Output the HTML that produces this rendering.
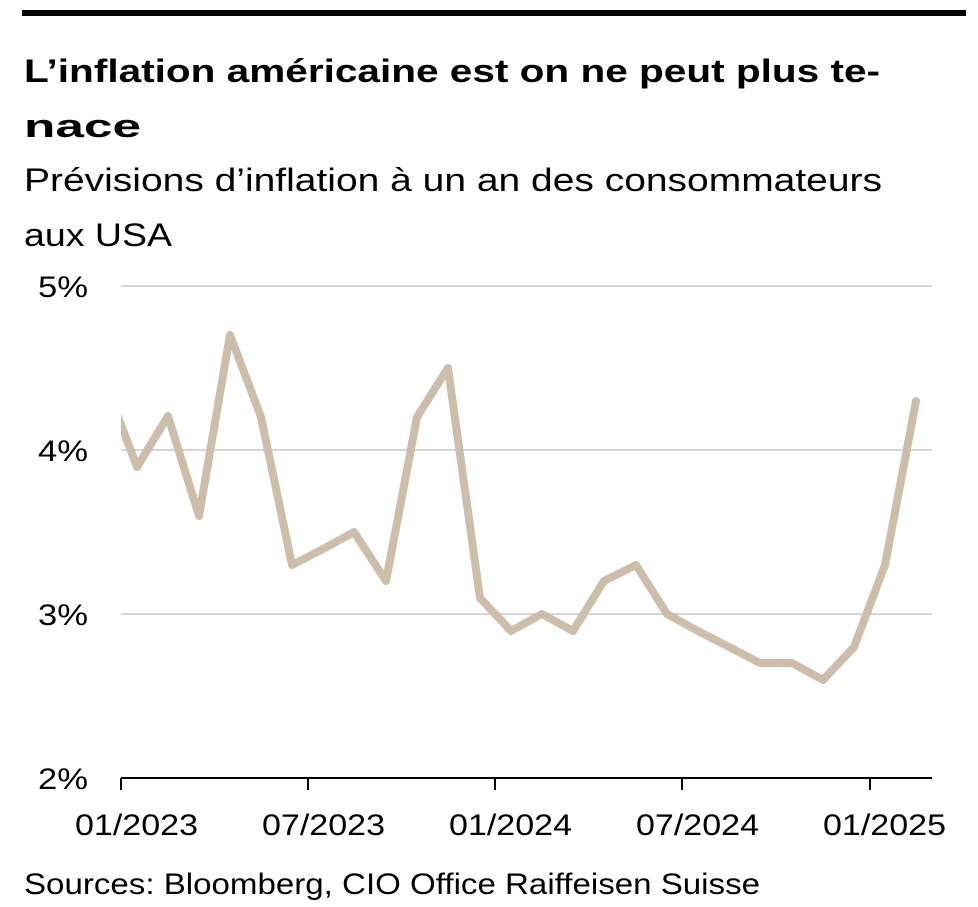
<!DOCTYPE html>
<html><head><meta charset="utf-8"><style>
body{margin:0;background:#fff;width:978px;height:907px;overflow:hidden;font-family:"Liberation Sans",sans-serif;}
</style></head><body>
<svg width="978" height="907" xmlns="http://www.w3.org/2000/svg" style="position:absolute;left:0;top:0">
<rect x="22" y="10" width="944" height="6" fill="#000"/>
<text x="24" y="82" font-size="32" font-weight="bold" fill="#000" textLength="856" lengthAdjust="spacingAndGlyphs">L’inflation américaine est on ne peut plus te-</text>
<text x="24" y="137" font-size="32" font-weight="bold" fill="#000" textLength="117" lengthAdjust="spacingAndGlyphs">nace</text>
<text x="24" y="191" font-size="32" fill="#000" textLength="858" lengthAdjust="spacingAndGlyphs">Prévisions d’inflation à un an des consommateurs</text>
<text x="24" y="246" font-size="32" fill="#000" textLength="148" lengthAdjust="spacingAndGlyphs">aux USA</text>
<g stroke="#c8c8c8" stroke-width="1.5">
<line x1="121" y1="286" x2="932" y2="286"/>
<line x1="121" y1="450" x2="932" y2="450"/>
<line x1="121" y1="614" x2="932" y2="614"/>
</g>
<g font-size="30" fill="#000" text-anchor="end">
<text x="88" y="297" textLength="50" lengthAdjust="spacingAndGlyphs">5%</text>
<text x="88" y="461" textLength="50" lengthAdjust="spacingAndGlyphs">4%</text>
<text x="88" y="625" textLength="50" lengthAdjust="spacingAndGlyphs">3%</text>
<text x="88" y="789" textLength="50" lengthAdjust="spacingAndGlyphs">2%</text>
</g>
<line x1="121" y1="778" x2="932" y2="778" stroke="#000" stroke-width="2"/>
<g stroke="#000" stroke-width="2">
<line x1="121" y1="778" x2="121" y2="790"/>
<line x1="308" y1="778" x2="308" y2="790"/>
<line x1="495" y1="778" x2="495" y2="790"/>
<line x1="682" y1="778" x2="682" y2="790"/>
<line x1="870" y1="778" x2="870" y2="790"/>
</g>
<g font-size="30" fill="#000">
<text x="75" y="835" textLength="123" lengthAdjust="spacingAndGlyphs">01/2023</text>
<text x="262" y="835" textLength="123" lengthAdjust="spacingAndGlyphs">07/2023</text>
<text x="449" y="835" textLength="123" lengthAdjust="spacingAndGlyphs">01/2024</text>
<text x="636" y="835" textLength="123" lengthAdjust="spacingAndGlyphs">07/2024</text>
<text x="823" y="835" textLength="123" lengthAdjust="spacingAndGlyphs">01/2025</text>
</g>
<defs><clipPath id="c"><rect x="121" y="270" width="820" height="520"/></clipPath></defs>
<polyline clip-path="url(#c)" fill="none" stroke="#cdbdab" stroke-width="8" stroke-linejoin="round" stroke-linecap="round"
points="106,385 137,467 168,416 199,516 230,335 261,417 292,565 323,549 354,532 386,581 417,417 448,368 480,598 511,631 542,614 573,631 604,581 636,565 667,614 698,631 729,647 760,663 792,663 823,680 854,647 885,565 916,401"/>
<text x="24" y="894" font-size="30" fill="#000" textLength="736" lengthAdjust="spacingAndGlyphs">Sources: Bloomberg, CIO Office Raiffeisen Suisse</text>
</svg>
</body></html>
